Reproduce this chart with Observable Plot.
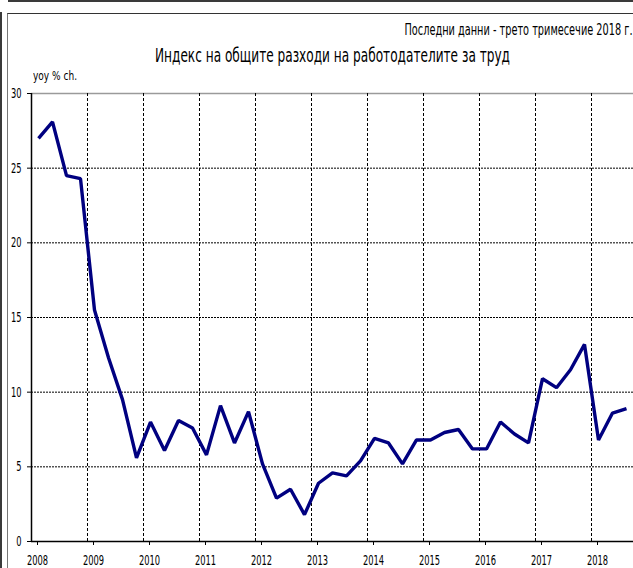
<!DOCTYPE html>
<html><head><meta charset="utf-8">
<script src="https://cdn.jsdelivr.net/npm/d3@7"></script>
<script src="https://cdn.jsdelivr.net/npm/@observablehq/plot@0.6"></script>
<style>
body{margin:0;background:#fff;}
#wrap{position:relative;width:633px;height:568px;overflow:hidden;background:#fff;font-family:"DejaVu Sans",sans-serif;color:#000;}
.topline{position:absolute;left:8px;top:0;right:0;height:2px;background:#3a3a3a;}
.leftline{position:absolute;left:0;top:12px;width:2px;bottom:0;background:#3a3a3a;}
.innerbox{position:absolute;left:7px;top:13px;right:-5px;bottom:-5px;border-left:1px solid #777;border-top:1px solid #333;}
.txt{position:absolute;white-space:nowrap;line-height:1;}
#note{right:1px;top:23px;font-size:15px;transform-origin:right top;}
#title{left:155px;top:45px;font-size:20px;transform-origin:left top;}
#ylab{left:33px;top:70px;font-size:12px;transform-origin:left top;}
#chart{position:absolute;left:0;top:80px;}
</style></head><body>
<div id="wrap">
 <div class="topline"></div>
 <div class="leftline"></div>
 <div class="innerbox"></div>
 <div id="note" class="txt">Последни данни - трето тримесечие 2018 г.</div>
 <div id="title" class="txt">Индекс на общите разходи на работодателите за труд</div>
 <div id="ylab" class="txt">yoy % ch.</div>
 <div id="chart"></div>
</div>
<script>
const quarters = [
 "2008Q1","2008Q2","2008Q3","2008Q4",
 "2009Q1","2009Q2","2009Q3","2009Q4",
 "2010Q1","2010Q2","2010Q3","2010Q4",
 "2011Q1","2011Q2","2011Q3","2011Q4",
 "2012Q1","2012Q2","2012Q3","2012Q4",
 "2013Q1","2013Q2","2013Q3","2013Q4",
 "2014Q1","2014Q2","2014Q3","2014Q4",
 "2015Q1","2015Q2","2015Q3","2015Q4",
 "2016Q1","2016Q2","2016Q3","2016Q4",
 "2017Q1","2017Q2","2017Q3","2017Q4",
 "2018Q1","2018Q2","2018Q3"
];
const values = [
 27.0, 28.1, 24.5, 24.3,
 15.5, 12.3, 9.5, 5.6,
 8.0, 6.1, 8.1, 7.6,
 5.8, 9.1, 6.6, 8.7,
 5.2, 2.9, 3.5, 1.8,
 3.9, 4.6, 4.4, 5.4,
 6.9, 6.6, 5.2, 6.8,
 6.8, 7.3, 7.5, 6.2,
 6.2, 8.0, 7.2, 6.6,
 10.9, 10.3, 11.5, 13.2,
 6.8, 8.6, 8.9
];
const yearTicks = [2008,2009,2010,2011,2012,2013,2014,2015,2016,2017,2018];
const yTicks = [0,5,10,15,20,25,30];

const data = quarters.map((q, i) => {
  const yr = +q.slice(0,4), qn = +q.slice(5);
  return {t: yr + (qn - 1) / 4 + 0.125, v: values[i]};
});

const chart = Plot.plot({
  width: 633,
  height: 488,
  marginLeft: 31,
  marginRight: 0,
  marginTop: 13,
  marginBottom: 27,
  style: {fontFamily: '"DejaVu Sans",sans-serif', fontSize: "14px", color: "#000", background: "transparent", overflow: "visible"},
  x: {domain: [2008, 2018.75], label: null},
  y: {domain: [0, 30], label: null},
  marks: [
    Plot.ruleY(yTicks.filter(d => d > 0 && d < 30), {stroke: "#000", strokeWidth: 1, strokeDasharray: "2,1"}),
    Plot.ruleY([30], {stroke: "#9a9a9a", strokeWidth: 1.5}),
    Plot.ruleX(yearTicks.filter(d => d > 2008), {y1: 0, y2: 30, stroke: "#000", strokeWidth: 1, strokeDasharray: "3,2"}),
    Plot.axisX({ticks: yearTicks, tickFormat: d => String(d), tickSize: 4, tickPadding: 10, fontSize: 14, dx: 6, stroke: "#000"}),
    Plot.axisY({ticks: yTicks, tickSize: 4, tickPadding: 6, fontSize: 14}),
    Plot.ruleY([0], {stroke: "#000", strokeWidth: 1.5}),
    Plot.ruleX([2008], {y1: 0, y2: 30, stroke: "#000", strokeWidth: 1.5}),
    Plot.line(data, {x: "t", y: "v", stroke: "#000080", strokeWidth: 3.4, strokeLinejoin: "miter", strokeLinecap: "butt"})
  ]
});
document.getElementById("chart").appendChild(chart);

// condense text horizontally, as in the original narrow typeface
function squeeze(id, target) {
  const el = document.getElementById(id);
  el.style.transform = `scaleX(${target / el.getBoundingClientRect().width})`;
}
squeeze("title", 355);
squeeze("note", 228);
squeeze("ylab", 44);
chart.querySelectorAll('g[aria-label="x-axis tick label"] text, g[aria-label="y-axis tick label"] text').forEach(t => {
  const n = t.textContent.length;
  t.setAttribute("textLength", (n * 5.3).toFixed(2));
  t.setAttribute("lengthAdjust", "spacingAndGlyphs");
});
</script>
</body></html>
